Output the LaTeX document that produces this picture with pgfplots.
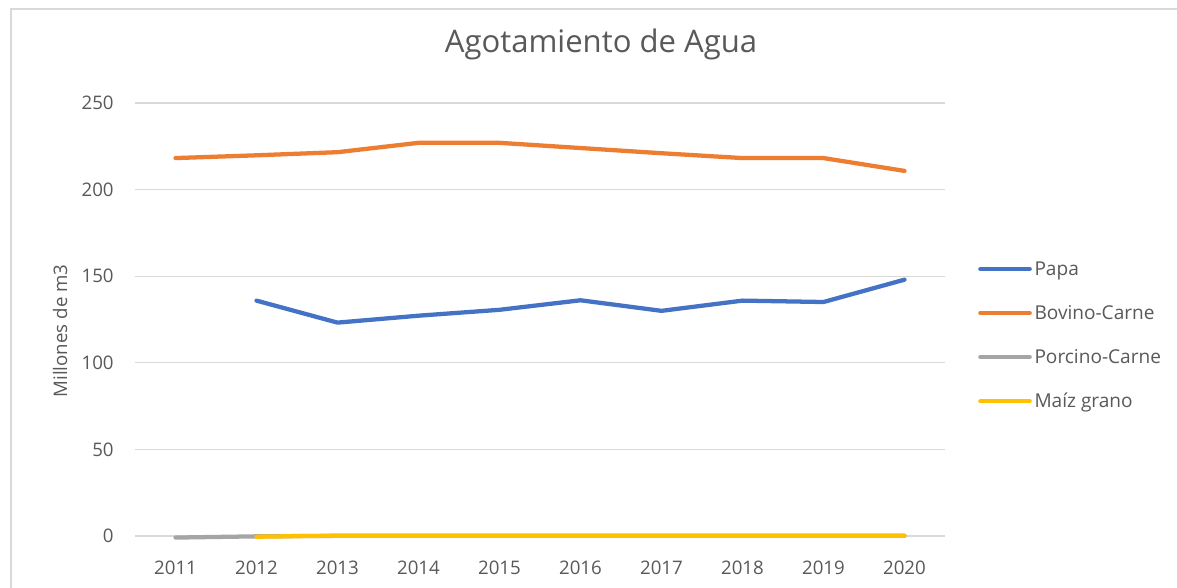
\documentclass[border=0pt]{standalone}
\usepackage{pgfplots}
\pgfplotsset{compat=1.18}
\usepackage{fontspec}
\setmainfont{Open Sans}
\definecolor{cblue}{RGB}{68,114,196}
\definecolor{corange}{RGB}{237,125,49}
\definecolor{cgray}{RGB}{165,165,165}
\definecolor{cyellow}{RGB}{255,192,0}
\definecolor{ctext}{RGB}{89,89,89}
\definecolor{cgrid}{RGB}{217,217,217}
\begin{document}
\begin{tikzpicture}
\useasboundingbox (0,0) rectangle (882.75pt,-441pt);
\fill[white] (0,0) rectangle (882.75pt,-441pt);
\draw[cgrid, line width=1pt] (8.25pt,-441pt) -- (8.25pt,-6.75pt) -- (882.75pt,-6.75pt);
\node[text=ctext, font=\fontsize{23.3}{27}\selectfont, anchor=base] at (450.75pt,-39.75pt) {Agotamiento de Agua};
\node[text=ctext, font=\fontsize{14}{16}\selectfont, rotate=90, anchor=center] at (45pt,-248.25pt) {Millones de m3};
\begin{axis}[
  at={(101.25pt,-402pt)}, anchor=south west,
  scale only axis, width=607.5pt, height=324.75pt,
  xmin=2010.5, xmax=2020.5, ymin=0, ymax=250,
  xtick={2011,...,2020}, ytick={0,50,...,250},
  xticklabel style={/pgf/number format/1000 sep={}},
  /pgf/number format/assume math mode=true,
  axis line style={draw=none},
  tick style={draw=none},
  ymajorgrids, grid style={cgrid, line width=0.8pt},
  tick label style={font=\fontsize{14}{16}\selectfont, text=ctext},
  xticklabel style={yshift=-15pt},
  yticklabel style={xshift=-12.5pt},
  legend style={at={(axis description cs:1.0407,0.463)}, anchor=west, draw=none, fill=none, inner sep=0pt, font=\fontsize{14.3}{16}\selectfont, text=ctext, row sep=17pt, legend cell align=left, /tikz/every even column/.style={column sep=1pt}},
  legend image code/.code={\draw[#1, line cap=round] (0pt,0pt) -- (37pt,0pt);},
  every axis plot/.append style={line width=3.2pt, line join=round, line cap=round},
  clip=false,
]
\addplot[cblue] coordinates {(2012,135.9) (2013,123.2) (2014,127.2) (2015,130.6) (2016,136.1) (2017,130.0) (2018,135.9) (2019,135.1) (2020,148.0)};
\addlegendentry{Papa}
\addplot[corange] coordinates {(2011,218.2) (2012,219.8) (2013,221.6) (2014,227.0) (2015,227.0) (2016,224.0) (2017,221.0) (2018,218.2) (2019,218.2) (2020,210.8)};
\addlegendentry{Bovino-Carne}
\addplot[cgray] coordinates {(2011,-0.9) (2012,-0.2) (2013,0.1) (2014,0.1) (2015,0.1) (2016,0.1) (2017,0.1) (2018,0.1) (2019,0.1) (2020,0.1)};
\addlegendentry{Porcino-Carne}
\addplot[cyellow] coordinates {(2012,-0.4) (2013,0.2) (2014,0.2) (2015,0.2) (2016,0.2) (2017,0.2) (2018,0.2) (2019,0.2) (2020,0.2)};
\addlegendentry{Maíz grano}
\end{axis}
\end{tikzpicture}
\end{document}
